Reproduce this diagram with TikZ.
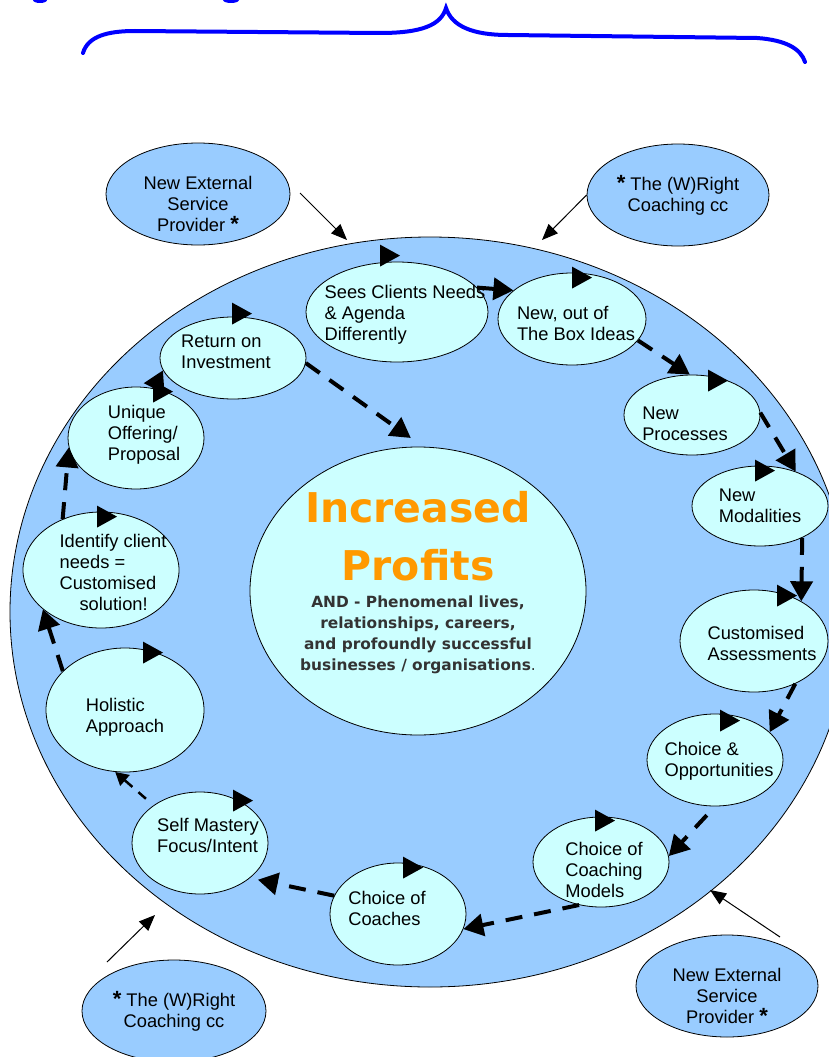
\documentclass[tikz,border=0pt]{standalone}
\usepackage{fontspec}
\setmainfont{Liberation Sans}
\newfontfamily\verdanaish{DejaVu Sans}
\usepackage{xcolor}
\usetikzlibrary{shapes.geometric, arrows.meta, positioning}
\definecolor{skyfill}{HTML}{99CCFF}
\definecolor{paleaqua}{HTML}{CCFFFF}
\definecolor{gainorange}{HTML}{FF9900}
\definecolor{subgrey}{HTML}{333333}
\newcommand\inside[4][l]{% align dx dy text -- text of fixed size bubble, no effect on its size
  \makebox[0pt]{\kern#2\kern#2\raisebox{\dimexpr#3-0.25em\relax}[0pt][0pt]{\begin{tabular}{@{}#1@{}}#4\end{tabular}}}}
\newcommand\cyclemark[3]{% node dx dy -- turning arrowhead on top of a bubble
  \fill ([shift={(#2-10,#3-11)}]#1.north) -- ([shift={(#2-10,#3+11)}]#1.north) -- ([shift={(#2+10,#3)}]#1.north) -- cycle;
}
\newcommand\astk{{\fontsize{22}{22}\selectfont\bfseries *}}

\begin{document}
\begin{tikzpicture}[x=1pt, y=-1pt,
    bubble/.style={ellipse, draw, line width=0.8pt, fill=paleaqua, inner sep=0pt, font=\fontsize{18.3}{21}\selectfont},
    outer/.style={ellipse, draw, line width=0.8pt, fill=skyfill, inner sep=0pt, font=\fontsize{18.3}{21}\selectfont},
    flow/.style={line width=4pt, dash pattern=on 17pt off 12pt, -{Triangle[length=20pt,width=22pt]}},
    thinflow/.style={line width=2.5pt, dash pattern=on 10pt off 8pt, -{Triangle[length=13pt,width=14pt]}},
    feed/.style={line width=1pt, -{Triangle[length=16pt,width=13pt]}}]
  \useasboundingbox (0,0) rectangle (828,1057);
  % brace and the cut off letters above it
  \fill[blue] (40,0) ellipse (7 and 3);
  \fill[blue] (231,0) ellipse (8 and 3);
  \draw[blue, line width=4pt, line cap=round] (83,53) .. controls (88,36) and (108,31) .. (135,31) -- (380,33)
    .. controls (422,33) and (441,25) .. (446,8) .. controls (452,26) and (472,35) .. (508,35) -- (757,38)
    .. controls (786,40) and (801,49) .. (805,62);

  \node[ellipse, draw, line width=0.8pt, fill=skyfill, minimum width=840, minimum height=750] (big) at (430,612) {};

  % outside providers
  \node[outer, minimum width=184, minimum height=102] (ext1) at (198,194) {\inside[c]{0pt}{-12pt}{New External\\Service\\Provider \astk}};
  \node[outer, minimum width=182, minimum height=102] (wri1) at (678,195) {\inside[c]{0pt}{-1pt}{\astk{} The (W)Right\\Coaching cc}};
  \node[outer, minimum width=184, minimum height=102] (wri2) at (174,1011) {\inside[c]{0pt}{-1pt}{\astk{} The (W)Right\\Coaching cc}};
  \node[outer, minimum width=182, minimum height=102] (ext2) at (727,986) {\inside[c]{0pt}{-12pt}{New External\\Service\\Provider \astk}};
  \coordinate (in1) at (347,240);
  \coordinate (in2) at (542,240);
  \coordinate (in3) at (155,915);
  \coordinate (in4) at (710,890);
  \draw[feed] ([shift={(102,-1)}]ext1.center) -- (in1);
  \draw[feed] (wri1.west) -- (in2);
  \draw[feed] ([shift={(-67,-49)}]wri2.center) -- (in3);
  \draw[feed] ([shift={(53,-49)}]ext2.center) -- (in4);

  % the core
  \node[bubble, minimum width=336, minimum height=288] (profit) at (418,591) {\inside[c]{0pt}{7pt}{%
    {\verdanaish\bfseries\fontsize{41}{55}\selectfont\color{gainorange}Increased}\\[20pt]
    {\verdanaish\bfseries\fontsize{41}{55}\selectfont\color{gainorange}Profits}\\[6pt]
    {\verdanaish\bfseries\fontsize{15.4}{21}\selectfont\color{subgrey}AND - Phenomenal lives,}\\
    {\verdanaish\bfseries\fontsize{15.4}{21}\selectfont\color{subgrey}relationships, careers,}\\
    {\verdanaish\bfseries\fontsize{15.4}{21}\selectfont\color{subgrey}and profoundly successful}\\
    {\verdanaish\fontsize{15.4}{21}\selectfont\color{subgrey}\textbf{businesses / organisations}.}}};

  % the cycle
  \node[bubble, minimum width=182, minimum height=100] (sees) at (397,312) {\inside{8pt}{-3pt}{Sees Clients Needs\\\& Agenda\\Differently}};
  \node[bubble, minimum width=148, minimum height=92] (box) at (572,319) {\inside{4pt}{-7pt}{New, out of\\The Box Ideas}};
  \node[bubble, minimum width=136, minimum height=80] (proc) at (692,415) {\inside{-7pt}{-11pt}{New\\Processes}};
  \node[bubble, minimum width=136, minimum height=80] (moda) at (760,506) {\inside{0pt}{-2pt}{New\\Modalities}};
  \node[bubble, minimum width=148, minimum height=102] (asse) at (754,641) {\inside{8pt}{-5pt}{Customised\\Assessments}};
  \node[bubble, minimum width=136, minimum height=92] (oppo) at (715,760) {\inside{4pt}{-2pt}{Choice \&\\Opportunities}};
  \node[bubble, minimum width=136, minimum height=90] (mode) at (601,862) {\inside{3pt}{-10pt}{Choice of\\Coaching\\Models}};
  \node[bubble, minimum width=136, minimum height=102] (coac) at (398,914) {\inside{-11pt}{3pt}{Choice of\\Coaches}};
  \node[bubble, minimum width=136, minimum height=102] (self) at (200,843) {\inside{8pt}{5pt}{Self Mastery\\Focus/Intent}};
  \node[bubble, minimum width=158, minimum height=124] (holi) at (125,710) {\inside{0pt}{-8pt}{Holistic\\Approach}};
  \node[bubble, minimum width=156, minimum height=116] (iden) at (101,570) {\inside{12pt}{-5pt}{Identify client\\needs =\\Customised\\\hspace*{20pt}solution!}};
  \node[bubble, minimum width=136, minimum height=102] (uniq) at (136,438) {\inside{8pt}{3pt}{Unique\\Offering/\\Proposal}};
  \node[bubble, minimum width=146, minimum height=82] (ret) at (233,358) {\inside{-7pt}{4pt}{Return on\\Investment}};

  \draw[flow] (sees.17) -- (box.154);
  \draw[flow] (box.-18) -- (proc.93);
  \draw[flow] (proc.2) -- (moda.44);
  \draw[flow] (moda.-37) -- (asse.40);
  \draw[flow] (asse.-46) -- (oppo.27);
  \draw[flow, shorten <=12pt] (oppo.-90) -- (mode.5);
  \draw[flow] (mode.-117) -- (coac.-13);
  \draw[flow, shorten >=8pt] (coac.164) -- (self.-35);
  \draw[thinflow, shorten <=10pt] (self.141) -- (holi.-99);
  \draw[flow] (holi.148) -- (iden.214);
  \draw[flow] (iden.127) -- (uniq.188);
  \draw[flow] (uniq.70) -- (ret.190);
  \draw[flow, shorten >=15pt] (ret.-4) -- (profit.88);

  \cyclemark{sees}{-7}{-6}
  \cyclemark{box}{10}{5}
  \cyclemark{proc}{26}{6}
  \cyclemark{moda}{5}{5}
  \cyclemark{asse}{33}{6}
  \cyclemark{oppo}{15}{7}
  \cyclemark{mode}{4}{4}
  \cyclemark{coac}{15}{5}
  \cyclemark{self}{43}{9}
  \cyclemark{holi}{28}{5}
  \cyclemark{iden}{6}{5}
  \cyclemark{uniq}{27}{5}
  \cyclemark{ret}{9}{-3}
\end{tikzpicture}
\end{document}
